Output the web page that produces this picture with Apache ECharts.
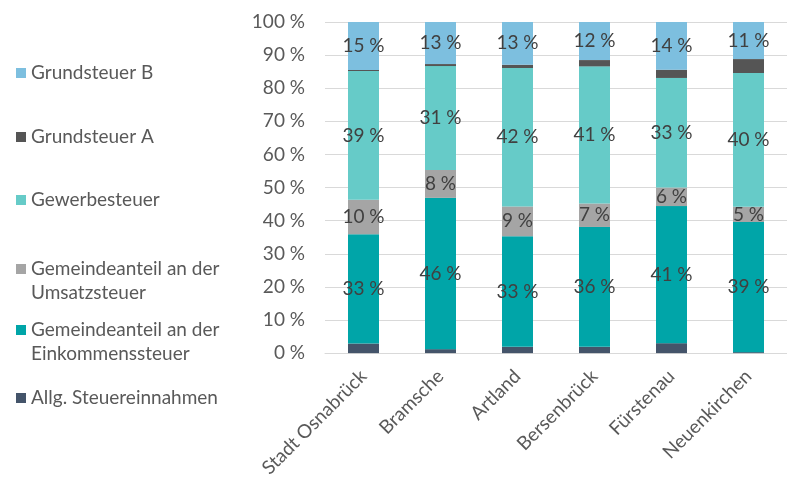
<!DOCTYPE html>
<html>
<head>
<meta charset="utf-8">
<script src="https://cdn.jsdelivr.net/npm/echarts@6/dist/echarts.min.js"></script>
<style>
  html, body { margin: 0; padding: 0; background: #ffffff; }
  #chart { width: 787px; height: 480px; }
</style>
</head>
<body>
<div id="chart"></div>
<script>
// Municipalities (x axis)
const categories = ['Stadt Osnabrück', 'Bramsche', 'Artland', 'Bersenbrück', 'Fürstenau', 'Neuenkirchen'];

// Share of each revenue type in %, bottom to top of each stack
const allgSteuer   = [2.9, 1.2, 1.9, 1.9, 3.0, 0.3];
const einkommen    = [33.0, 45.7, 33.4, 36.2, 41.4, 39.3];
const umsatz       = [10.4, 8.4, 9.0, 7.1, 5.6, 4.6];
const gewerbe      = [38.9, 31.4, 41.8, 41.4, 33.1, 40.4];
const grundsteuerA = [0.3, 0.6, 1.0, 1.9, 2.5, 4.2];
const grundsteuerB = [14.5, 12.7, 12.9, 11.5, 14.4, 11.2];

// Y axis ticks
const yTicks = [0, 10, 20, 30, 40, 50, 60, 70, 80, 90, 100];

const FONT = 'Lato, "Open Sans", sans-serif';
const TEXT = '#595959';
const FS = 19;

const seriesDefs = [
  { name: 'Allg. Steuereinnahmen', data: allgSteuer, color: '#44546a', label: false },
  { name: 'Gemeindeanteil an der Einkommenssteuer', data: einkommen, color: '#00a5a8', label: true },
  { name: 'Gemeindeanteil an der Umsatzsteuer', data: umsatz, color: '#a5a5a5', label: true },
  { name: 'Gewerbesteuer', data: gewerbe, color: '#66cbc8', label: true },
  { name: 'Grundsteuer A', data: grundsteuerA, color: '#555555', label: false },
  { name: 'Grundsteuer B', data: grundsteuerB, color: '#7dbfdf', label: true }
];

// Legend entries: display lines and vertical placement (top of item box).
// Two-line entries get an empty leading line so the marker sits beside the first line.
const legendDefs = [
  { name: 'Grundsteuer B', lines: ['Grundsteuer B'], top: 61 },
  { name: 'Grundsteuer A', lines: ['Grundsteuer A'], top: 125 },
  { name: 'Gewerbesteuer', lines: ['Gewerbesteuer'], top: 188 },
  { name: 'Gemeindeanteil an der Umsatzsteuer', lines: ['', 'Gemeindeanteil an der', 'Umsatzsteuer'], top: 233 },
  { name: 'Gemeindeanteil an der Einkommenssteuer', lines: ['', 'Gemeindeanteil an der', 'Einkommenssteuer'], top: 294 },
  { name: 'Allg. Steuereinnahmen', lines: ['Allg. Steuereinnahmen'], top: 386 }
];

const chart = echarts.init(document.getElementById('chart'), null, { renderer: 'canvas' });

const option = {
  backgroundColor: '#ffffff',
  animation: false,
  legend: legendDefs.map(l => ({
    data: [l.name],
    left: 16,
    top: l.top,
    orient: 'vertical',
    padding: 0,
    itemWidth: 10,
    itemHeight: 10,
    itemGap: 0,
    icon: 'rect',
    selectedMode: false,
    formatter: () => l.lines.join('\n'),
    textStyle: {
      fontFamily: FONT,
      fontSize: FS,
      color: TEXT,
      lineHeight: 24
    }
  })),
  grid: {
    left: 325,
    top: 22,
    width: 479,
    height: 334,
    containLabel: false
  },
  xAxis: {
    type: 'category',
    data: categories,
    axisLine: { show: true, lineStyle: { color: '#d9d9d9', width: 1 } },
    axisTick: { show: false },
    axisLabel: {
      rotate: 45,
      interval: 0,
      margin: 20,
      fontFamily: FONT,
      fontSize: FS,
      color: TEXT
    }
  },
  yAxis: {
    type: 'value',
    min: yTicks[0],
    max: yTicks[yTicks.length - 1],
    interval: yTicks[1] - yTicks[0],
    axisLine: { show: false },
    axisTick: { show: false },
    splitLine: { lineStyle: { color: '#d9d9d9', width: 1 } },
    axisLabel: {
      margin: 20,
      fontFamily: FONT,
      fontSize: FS,
      color: TEXT,
      formatter: v => v + ' %'
    }
  },
  series: seriesDefs.map(s => ({
    type: 'bar',
    name: s.name,
    stack: 'total',
    data: s.data,
    barWidth: 31,
    itemStyle: { color: s.color },
    label: {
      show: s.label,
      position: 'inside',
      fontFamily: FONT,
      fontSize: FS,
      color: '#404040',
      formatter: p => Math.round(p.value) + ' %'
    }
  }))
};

chart.setOption(option);
</script>
</body>
</html>
